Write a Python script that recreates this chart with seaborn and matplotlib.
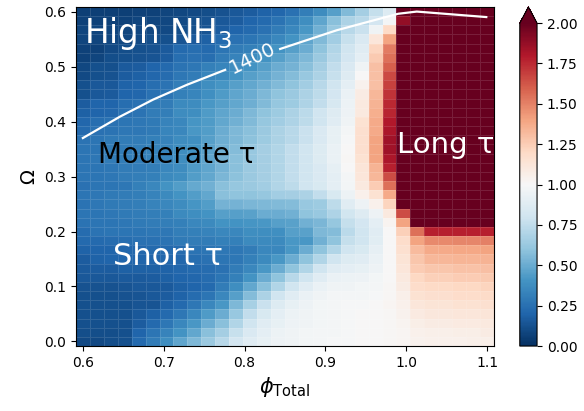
import numpy as np
import pandas as pd
import seaborn as sns
import matplotlib.pyplot as plt

# grid of the map
phi_total = np.linspace(0.6, 1.1, 30)
omega = np.linspace(0.0, 0.6, 37)

# tau ratio x100, one row per omega value, from omega = 0.6 (top) down to 0.0
R = 250  # above the colour range
tau_rows = [
    [6, 6, 6, 6, 7, 7, 8, 9, 10, 11, 13, 15, 17, 19, 21, 25, 31, 37, 45, 56, 66, 76, 86, R, R, R, R, R, R, R],
    [7, 7, 7, 7, 8, 8, 9, 10, 11, 13, 15, 17, 20, 22, 26, 32, 38, 47, 58, 68, 72, 82, 98, 188, R, R, R, R, R, R],
    [8, 8, 8, 8, 9, 9, 10, 11, 12, 14, 17, 20, 22, 25, 30, 35, 42, 52, 62, 72, 78, 96, 120, R, R, R, R, R, R, R],
    [8, 8, 9, 9, 10, 11, 12, 14, 16, 18, 22, 25, 27, 30, 35, 40, 47, 56, 65, 77, 85, 112, 140, R, R, R, R, R, R, R],
    [7, 7, 10, 11, 12, 13, 16, 22, 24, 22, 27, 30, 32, 35, 40, 45, 50, 60, 70, 80, 88, 122, 152, R, R, R, R, R, R, R],
    [7, 8, 11, 12, 13, 14, 17, 24, 25, 24, 30, 33, 37, 40, 45, 50, 55, 63, 72, 82, 90, 126, 155, R, R, R, R, R, R, R],
    [9, 12, 12, 16, 17, 20, 22, 26, 28, 32, 34, 37, 40, 45, 50, 53, 58, 66, 75, 85, 96, 130, 160, R, R, R, R, R, R, R],
    [10, 12, 13, 17, 18, 21, 23, 28, 30, 34, 36, 40, 45, 48, 53, 57, 62, 68, 77, 87, 100, 130, 166, R, R, R, R, R, R, R],
    [12, 15, 15, 19, 20, 24, 26, 31, 33, 38, 41, 45, 48, 52, 56, 60, 65, 72, 80, 90, 104, 130, 168, R, R, R, R, R, R, R],
    [12, 15, 16, 20, 21, 25, 27, 32, 34, 39, 43, 47, 50, 55, 60, 63, 68, 74, 82, 93, 108, 133, 172, R, R, R, R, R, R, R],
    [17, 20, 20, 24, 25, 29, 30, 36, 37, 42, 45, 48, 51, 56, 61, 64, 69, 75, 83, 94, 110, 135, 175, R, R, R, R, R, R, R],
    [18, 20, 21, 25, 26, 30, 31, 37, 38, 43, 47, 50, 55, 60, 64, 68, 73, 80, 87, 95, 110, 136, 176, R, R, R, R, R, R, R],
    [21, 24, 25, 27, 28, 29, 33, 35, 41, 43, 48, 52, 56, 61, 65, 69, 74, 80, 88, 96, 115, 138, 180, R, R, R, R, R, R, R],
    [22, 25, 26, 28, 28, 29, 34, 35, 42, 44, 50, 55, 58, 63, 68, 72, 78, 85, 92, 98, 117, 138, 182, R, R, R, R, R, R, R],
    [26, 27, 29, 30, 30, 32, 33, 37, 39, 45, 51, 55, 59, 64, 68, 72, 78, 85, 92, 99, 117, 140, 185, R, R, R, R, R, R, R],
    [27, 27, 30, 30, 31, 33, 34, 38, 40, 46, 52, 57, 62, 66, 70, 75, 80, 86, 93, 100, 117, 140, 185, R, R, R, R, R, R, R],
    [27, 28, 30, 31, 31, 33, 34, 38, 41, 47, 53, 58, 62, 66, 70, 75, 80, 86, 93, 101, 115, 140, 182, R, R, R, R, R, R, R],
    [27, 27, 28, 30, 30, 31, 35, 37, 43, 47, 53, 58, 63, 66, 70, 75, 80, 85, 91, 100, 113, 135, 178, R, R, R, R, R, R, R],
    [27, 27, 28, 30, 31, 32, 36, 38, 44, 48, 54, 59, 63, 66, 70, 75, 80, 85, 90, 98, 112, 133, 165, R, R, R, R, R, R, R],
    [25, 27, 27, 28, 32, 35, 40, 44, 49, 52, 58, 61, 63, 65, 70, 74, 80, 84, 90, 97, 110, 125, 155, R, R, R, R, R, R, R],
    [27, 28, 29, 30, 31, 33, 36, 40, 44, 48, 58, 60, 60, 61, 65, 66, 68, 75, 84, 94, 105, 115, 138, R, R, R, R, R, R, R],
    [26, 28, 29, 30, 31, 33, 35, 37, 41, 44, 53, 53, 54, 55, 56, 57, 62, 64, 74, 88, 95, 105, 122, R, R, R, R, R, R, R],
    [27, 27, 28, 29, 30, 31, 32, 36, 38, 40, 45, 45, 46, 50, 50, 52, 60, 62, 69, 81, 87, 95, 110, 165, R, R, R, R, R, R],
    [26, 27, 27, 28, 29, 30, 31, 32, 35, 36, 40, 40, 41, 42, 45, 46, 52, 54, 61, 76, 82, 90, 103, 140, R, R, R, R, R, R],
    [23, 26, 27, 27, 27, 28, 28, 31, 32, 33, 35, 35, 38, 38, 39, 45, 46, 55, 57, 73, 80, 88, 100, 124, 155, 178, 178, 178, 178, 178],
    [22, 22, 23, 24, 25, 25, 26, 29, 30, 30, 32, 32, 36, 36, 36, 42, 42, 52, 60, 76, 80, 89, 100, 118, 140, 148, 148, 149, 149, 150],
    [19, 20, 20, 21, 21, 22, 22, 23, 26, 27, 28, 28, 30, 35, 35, 42, 50, 60, 70, 80, 84, 91, 100, 116, 132, 138, 138, 139, 139, 140],
    [17, 19, 20, 20, 20, 20, 21, 21, 24, 25, 27, 28, 32, 36, 42, 50, 60, 70, 80, 86, 88, 93, 100, 114, 128, 133, 133, 134, 134, 135],
    [16, 17, 17, 18, 18, 18, 19, 21, 22, 23, 25, 30, 35, 42, 50, 60, 70, 80, 88, 90, 92, 95, 100, 112, 125, 128, 128, 129, 129, 130],
    [15, 15, 15, 16, 16, 17, 18, 20, 21, 23, 27, 32, 40, 50, 60, 72, 80, 88, 93, 94, 95, 97, 100, 110, 121, 124, 124, 125, 125, 126],
    [13, 13, 13, 14, 15, 15, 16, 18, 20, 22, 30, 38, 48, 58, 70, 80, 88, 93, 96, 96, 97, 98, 101, 108, 118, 120, 120, 121, 121, 122],
    [12, 12, 12, 13, 14, 15, 17, 19, 23, 27, 35, 45, 57, 68, 80, 88, 93, 96, 98, 98, 98, 99, 101, 106, 115, 117, 117, 118, 118, 119],
    [12, 12, 12, 12, 14, 14, 18, 22, 28, 35, 42, 55, 67, 78, 86, 92, 95, 97, 98, 99, 99, 100, 102, 105, 112, 114, 114, 115, 115, 116],
    [12, 12, 12, 12, 15, 18, 22, 28, 35, 43, 50, 62, 75, 84, 90, 94, 96, 97, 98, 99, 100, 100, 101, 104, 109, 111, 111, 112, 112, 113],
    [12, 12, 12, 12, 17, 22, 28, 35, 42, 50, 58, 70, 80, 88, 92, 95, 96, 97, 98, 99, 100, 100, 101, 103, 107, 108, 108, 109, 109, 110],
    [11, 11, 11, 12, 20, 27, 33, 40, 48, 58, 66, 77, 85, 90, 94, 96, 97, 98, 98, 99, 100, 100, 101, 102, 105, 106, 106, 107, 107, 108],
    [10, 10, 11, 12, 22, 30, 38, 47, 55, 63, 72, 82, 88, 92, 95, 96, 97, 98, 99, 99, 100, 100, 101, 102, 104, 105, 105, 105, 106, 106],
]

# 1400 contour, split where the label sits
line_phi_a = [0.600, 0.646, 0.687, 0.729, 0.776]
line_om_a = [0.370, 0.409, 0.440, 0.467, 0.494]
line_phi_b = [0.844, 0.914, 0.990, 1.013, 1.099]
line_om_b = [0.532, 0.566, 0.596, 0.600, 0.590]

x_ticks = [0.6, 0.7, 0.8, 0.9, 1.0, 1.1]
y_ticks = [0.0, 0.1, 0.2, 0.3, 0.4, 0.5, 0.6]
cbar_ticks = [0.0, 0.25, 0.5, 0.75, 1.0, 1.25, 1.5, 1.75, 2.0]

df = pd.DataFrame(np.array(tau_rows) / 100.0,
                  index=np.round(omega[::-1], 4), columns=np.round(phi_total, 4))

dx = phi_total[1] - phi_total[0]
dy = omega[1] - omega[0]


def cx(p):
    return (np.asarray(p) - phi_total[0]) / dx + 0.5


def cy(o):
    return (omega[-1] - np.asarray(o)) / dy + 0.5


fig = plt.figure(figsize=(5.84, 4.11), dpi=100)
ax = fig.add_axes([0.130, 0.158, 0.716, 0.825])
cax = fig.add_axes([0.890, 0.158, 0.0296, 0.825])

sns.heatmap(df, ax=ax, cbar_ax=cax, cmap='RdBu_r', vmin=0, vmax=2,
            xticklabels=False, yticklabels=False,
            linewidths=0.4, linecolor=(1, 1, 1, 0.12),
            cbar_kws={'extend': 'max', 'ticks': cbar_ticks, 'format': '%.2f'})

ax.set_xticks(cx(x_ticks))
ax.set_xticklabels([f'{v:.1f}' for v in x_ticks], rotation=0)
ax.set_yticks(cy(y_ticks))
ax.set_yticklabels([f'{v:.1f}' for v in y_ticks], rotation=0)
ax.tick_params(length=3.5, width=0.8, labelsize=10)
for sp in ax.spines.values():
    sp.set_visible(True)
    sp.set_color('black')
    sp.set_linewidth(0.8)

cb = ax.collections[0].colorbar
cb.outline.set_linewidth(0.8)
cb.outline.set_edgecolor('black')
cb.ax.tick_params(length=3.5, width=0.8, labelsize=10)

ax.plot(cx(line_phi_a), cy(line_om_a), color='white', lw=1.6)
ax.plot(cx(line_phi_b), cy(line_om_b), color='white', lw=1.6)
ax.text(cx(0.8105), cy(0.5155), '1400', color='white', fontsize=14,
        rotation=26, ha='center', va='center', rotation_mode='anchor')

ax.text(cx(0.601), cy(0.5425), 'High NH$_3$', color='white', fontsize=23.5, va='baseline')
ax.text(cx(0.619), cy(0.325), 'Moderate τ', color='black', fontsize=20, va='baseline')
ax.text(cx(0.637), cy(0.139), 'Short τ', color='white', fontsize=22, va='baseline')
ax.text(cx(0.989), cy(0.343), 'Long τ', color='white', fontsize=21, va='baseline')

ax.set_xlabel(r'$\phi_{\mathrm{Total}}$', fontsize=15)
ax.set_ylabel('Ω', fontsize=14)

fig.savefig('out.png', dpi=100)
